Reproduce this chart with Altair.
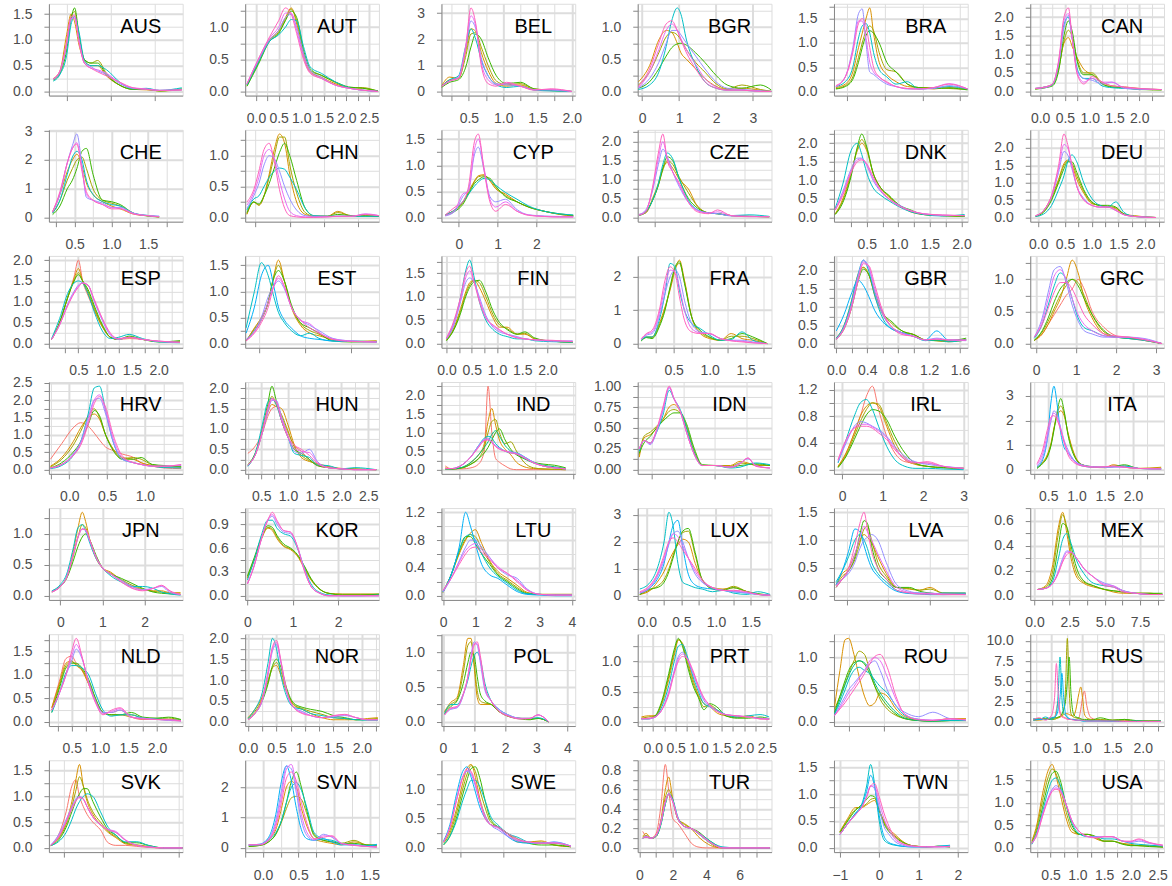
import altair as alt
import pandas as pd

YEARS = [2006, 2007, 2008, 2009, 2010, 2011, 2012, 2013, 2014, 2015]
PALETTE = ["#F8766D", "#D89000", "#A3A500", "#39B600", "#00BF7D",
           "#00BFC4", "#00B0F6", "#9590FF", "#E76BF3", "#FF62BC"]

COUNTRIES = ["AUS", "AUT", "BEL", "BGR", "BRA", "CAN",
             "CHE", "CHN", "CYP", "CZE", "DNK", "DEU",
             "ESP", "EST", "FIN", "FRA", "GBR", "GRC",
             "HRV", "HUN", "IND", "IDN", "IRL", "ITA",
             "JPN", "KOR", "LTU", "LUX", "LVA", "MEX",
             "NLD", "NOR", "POL", "PRT", "ROU", "RUS",
             "SVK", "SVN", "SWE", "TUR", "TWN", "USA"]

X_DOMAIN = {
    "AUS": [0.1, 3.12], "AUT": [-0.24, 2.72], "BEL": [0.1, 2.05], "BGR": [-0.12, 3.5],
    "BRA": [0.15, 3.7], "CAN": [-0.2, 2.5], "CHE": [0.15, 1.97], "CHN": [0.2, 4.1],
    "CYP": [-0.45, 3.0], "CZE": [0.12, 3.1], "DNK": [-0.02, 2.1], "DEU": [-0.15, 2.35],
    "ESP": [-0.05, 2.45], "EST": [0.2, 3.1], "FIN": [-0.1, 2.55], "FRA": [0.0, 1.86],
    "GBR": [-0.03, 1.7], "GRC": [-0.15, 3.2], "HRV": [-0.27, 1.5], "HUN": [0.2, 2.7],
    "IND": [0.02, 3.55], "IDN": [0.05, 4.3], "IRL": [-0.2, 3.1], "ITA": [0.18, 2.55],
    "JPN": [-0.27, 2.9], "KOR": [-0.05, 2.9], "LTU": [-0.05, 4.1], "LUX": [-0.13, 1.8],
    "LVA": [0.2, 3.4], "MEX": [-0.3, 9.2], "NLD": [0.1, 2.45], "NOR": [-0.05, 2.3],
    "POL": [-0.05, 4.25], "PRT": [-0.33, 2.6], "ROU": [0.08, 3.9], "RUS": [0.15, 2.35],
    "SVK": [0.1, 3.6], "SVN": [-0.25, 1.63], "SWE": [0.05, 3.2], "TUR": [-0.1, 7.9],
    "TWN": [-1.15, 2.25], "USA": [0.12, 2.62],
}

X_TICKS = {
    "AUS": [1, 2, 3], "AUT": [0, 0.5, 1, 1.5, 2, 2.5], "BEL": [0.5, 1, 1.5, 2],
    "BGR": [0, 1, 2, 3], "BRA": [1, 2, 3], "CAN": [0, 0.5, 1, 1.5, 2],
    "CHE": [0.5, 1, 1.5], "CHN": [1, 2, 3, 4], "CYP": [0, 1, 2], "CZE": [1, 2, 3],
    "DNK": [0.5, 1, 1.5, 2], "DEU": [0, 0.5, 1, 1.5, 2], "ESP": [0.5, 1, 1.5, 2],
    "EST": [1, 2, 3], "FIN": [0, 0.5, 1, 1.5, 2], "FRA": [0.5, 1, 1.5],
    "GBR": [0, 0.4, 0.8, 1.2, 1.6], "GRC": [0, 1, 2, 3], "HRV": [0, 0.5, 1],
    "HUN": [0.5, 1, 1.5, 2, 2.5], "IND": [1, 2, 3], "IDN": [1, 2, 3, 4],
    "IRL": [0, 1, 2, 3], "ITA": [0.5, 1, 1.5, 2], "JPN": [0, 1, 2], "KOR": [0, 1, 2],
    "LTU": [0, 1, 2, 3, 4], "LUX": [0, 0.5, 1, 1.5], "LVA": [1, 2, 3],
    "MEX": [0, 2.5, 5, 7.5], "NLD": [0.5, 1, 1.5, 2], "NOR": [0, 0.5, 1, 1.5, 2],
    "POL": [0, 1, 2, 3, 4], "PRT": [0, 0.5, 1, 1.5, 2, 2.5], "ROU": [1, 2, 3],
    "RUS": [0.5, 1, 1.5, 2], "SVK": [1, 2, 3], "SVN": [0, 0.5, 1, 1.5], "SWE": [1, 2, 3],
    "TUR": [0, 2, 4, 6], "TWN": [-1, 0, 1, 2], "USA": [0.5, 1, 1.5, 2, 2.5],
}

Y_TICKS = {
    "AUS": [0, 0.5, 1, 1.5], "AUT": [0, 0.5, 1], "BEL": [0, 1, 2, 3], "BGR": [0, 0.5, 1],
    "BRA": [0, 0.5, 1, 1.5], "CAN": [0, 0.5, 1, 1.5, 2], "CHE": [0, 1, 2, 3],
    "CHN": [0, 0.5, 1], "CYP": [0, 0.5, 1, 1.5], "CZE": [0, 0.5, 1, 1.5, 2],
    "DNK": [0, 0.5, 1, 1.5, 2], "DEU": [0, 0.5, 1, 1.5, 2], "ESP": [0, 0.5, 1, 1.5, 2],
    "EST": [0, 0.5, 1, 1.5], "FIN": [0, 0.5, 1, 1.5], "FRA": [0, 1, 2],
    "GBR": [0, 0.5, 1, 1.5, 2], "GRC": [0, 0.5, 1], "HRV": [0, 0.5, 1, 1.5, 2, 2.5],
    "HUN": [0, 0.5, 1, 1.5, 2], "IND": [0, 0.5, 1, 1.5, 2], "IDN": [0, 0.25, 0.5, 0.75, 1],
    "IRL": [0, 0.4, 0.8, 1.2], "ITA": [0, 1, 2, 3], "JPN": [0, 0.5, 1],
    "KOR": [0, 0.3, 0.6, 0.9], "LTU": [0, 0.4, 0.8, 1.2], "LUX": [0, 1, 2, 3],
    "LVA": [0, 0.5, 1, 1.5], "MEX": [0, 0.2, 0.4, 0.6], "NLD": [0, 0.5, 1, 1.5],
    "NOR": [0, 0.5, 1, 1.5, 2], "POL": [0, 0.5, 1], "PRT": [0, 0.5, 1], "ROU": [0, 0.5, 1],
    "RUS": [0, 2.5, 5, 7.5, 10], "SVK": [0, 0.5, 1, 1.5], "SVN": [0, 1, 2],
    "SWE": [0, 0.5, 1, 1.5], "TUR": [0, 0.2, 0.4, 0.6, 0.8], "TWN": [0, 0.5, 1, 1.5],
    "USA": [0, 0.5, 1, 1.5],
}

# ---- density curves: x grid + one y list per year ----
AUS_X = [0.2, 0.35, 0.5, 0.6, 0.68, 0.78, 0.9, 1.05, 1.2, 1.4, 1.7, 2.0, 2.3, 2.6, 3.1]
AUS_Y = {
    2007: [0.25, 0.4, 1.1, 1.5, 1.35, 0.9, 0.6, 0.5, 0.5, 0.3, 0.12, 0.04, 0.03, 0.01, 0.03],
    2008: [0.24, 0.38, 0.95, 1.45, 1.55, 1.05, 0.62, 0.55, 0.6, 0.35, 0.12, 0.04, 0.04, 0.01, 0.04],
    2009: [0.22, 0.35, 0.8, 1.4, 1.62, 1.1, 0.62, 0.55, 0.55, 0.32, 0.12, 0.04, 0.05, 0.01, 0.05],
    2011: [0.2, 0.33, 0.7, 1.3, 1.45, 1.15, 0.6, 0.5, 0.5, 0.42, 0.18, 0.05, 0.06, 0.02, 0.07],
    2013: [0.23, 0.38, 0.9, 1.4, 1.45, 1.0, 0.55, 0.48, 0.4, 0.33, 0.15, 0.06, 0.04, 0.02, 0.03],
    2014: [0.24, 0.4, 0.92, 1.42, 1.42, 0.98, 0.55, 0.45, 0.42, 0.35, 0.17, 0.07, 0.05, 0.02, 0.03],
    2015: [0.25, 0.4, 0.95, 1.45, 1.48, 0.95, 0.55, 0.45, 0.38, 0.3, 0.18, 0.07, 0.04, 0.02, 0.03],
}
AUT_X = [-0.2, 0.05, 0.3, 0.5, 0.65, 0.78, 0.9, 1.05, 1.2, 1.45, 1.75, 2.05, 2.35, 2.7]
AUT_Y = {
    2007: [0.1, 0.45, 0.8, 0.95, 1.15, 1.3, 1.05, 0.55, 0.3, 0.22, 0.12, 0.06, 0.05, 0.0],
    2008: [0.09, 0.44, 0.8, 0.92, 1.12, 1.28, 1.1, 0.6, 0.32, 0.25, 0.14, 0.06, 0.06, 0.0],
    2009: [0.08, 0.42, 0.78, 0.9, 1.1, 1.25, 1.15, 0.65, 0.35, 0.25, 0.15, 0.07, 0.05, 0.01],
    2011: [0.1, 0.45, 0.78, 0.88, 1.0, 1.12, 1.1, 0.7, 0.38, 0.28, 0.15, 0.06, 0.02, 0.0],
    2013: [0.12, 0.48, 0.8, 0.95, 1.15, 1.2, 1.0, 0.6, 0.33, 0.22, 0.1, 0.05, 0.02, 0.0],
    2014: [0.12, 0.5, 0.83, 1.0, 1.22, 1.22, 0.95, 0.55, 0.3, 0.2, 0.1, 0.05, 0.02, 0.0],
    2015: [0.12, 0.5, 0.85, 1.1, 1.3, 1.2, 0.9, 0.5, 0.28, 0.2, 0.1, 0.05, 0.02, 0.0],
}
BEL_X = [0.1, 0.22, 0.35, 0.45, 0.53, 0.6, 0.68, 0.78, 0.9, 1.05, 1.25, 1.45, 1.7, 2.0]
BEL_Y = {
    2007: [0.2, 0.55, 0.5, 1.5, 2.4, 2.3, 1.5, 0.8, 0.3, 0.2, 0.25, 0.08, 0.06, 0.0],
    2008: [0.18, 0.45, 0.5, 1.3, 2.2, 2.25, 1.7, 1.0, 0.4, 0.25, 0.3, 0.1, 0.05, 0.0],
    2009: [0.15, 0.35, 0.45, 0.9, 1.7, 2.2, 2.0, 1.3, 0.6, 0.3, 0.35, 0.1, 0.03, 0.0],
    2011: [0.2, 0.45, 0.6, 1.7, 2.4, 2.0, 1.2, 0.6, 0.25, 0.15, 0.2, 0.05, 0.02, 0.0],
    2013: [0.2, 0.4, 0.55, 1.6, 2.7, 2.4, 1.3, 0.6, 0.3, 0.25, 0.2, 0.07, 0.05, 0.0],
    2014: [0.2, 0.4, 0.52, 1.7, 2.9, 2.5, 1.1, 0.45, 0.25, 0.3, 0.2, 0.06, 0.08, 0.0],
    2015: [0.18, 0.4, 0.5, 1.6, 3.2, 2.6, 1.0, 0.3, 0.2, 0.35, 0.2, 0.05, 0.1, 0.0],
}
BGR_X = [-0.1, 0.2, 0.45, 0.65, 0.8, 0.95, 1.05, 1.2, 1.45, 1.7, 2.0, 2.3, 2.7, 3.2, 3.5]
BGR_Y = {
    2007: [0.15, 0.4, 0.8, 0.95, 0.92, 0.75, 0.6, 0.5, 0.35, 0.2, 0.08, 0.03, 0.05, 0.02, 0.0],
    2008: [0.1, 0.3, 0.6, 0.85, 0.92, 0.88, 0.8, 0.65, 0.45, 0.3, 0.12, 0.04, 0.1, 0.03, 0.0],
    2009: [0.05, 0.15, 0.35, 0.55, 0.68, 0.74, 0.75, 0.72, 0.6, 0.45, 0.25, 0.1, 0.05, 0.1, 0.02],
    2011: [0.03, 0.1, 0.3, 0.7, 1.1, 1.3, 1.2, 0.8, 0.4, 0.15, 0.05, 0.02, 0.02, 0.0, 0.0],
    2013: [0.05, 0.2, 0.45, 0.75, 0.95, 0.95, 0.88, 0.75, 0.55, 0.35, 0.15, 0.05, 0.03, 0.01, 0.0],
    2014: [0.06, 0.3, 0.65, 0.95, 1.05, 0.95, 0.82, 0.65, 0.42, 0.2, 0.07, 0.02, 0.02, 0.0, 0.0],
    2015: [0.08, 0.35, 0.75, 1.05, 1.1, 0.95, 0.8, 0.6, 0.35, 0.15, 0.05, 0.02, 0.02, 0.0, 0.0],
}
BRA_X = [0.2, 0.45, 0.65, 0.8, 0.9, 1.0, 1.1, 1.2, 1.35, 1.55, 1.8, 2.1, 2.4, 2.8, 3.2, 3.7]
BRA_Y = {
    2007: [0.08, 0.15, 0.4, 0.9, 1.2, 1.5, 1.72, 1.2, 0.6, 0.35, 0.2, 0.1, 0.08, 0.05, 0.08, 0.05],
    2008: [0.06, 0.12, 0.3, 0.7, 1.0, 1.25, 1.35, 1.25, 0.8, 0.45, 0.4, 0.15, 0.08, 0.08, 0.06, 0.04],
    2009: [0.05, 0.1, 0.25, 0.6, 0.9, 1.15, 1.25, 1.2, 1.0, 0.6, 0.4, 0.15, 0.08, 0.06, 0.07, 0.03],
    2011: [0.1, 0.2, 0.5, 1.1, 1.35, 1.4, 1.2, 0.8, 0.45, 0.3, 0.15, 0.2, 0.05, 0.07, 0.1, 0.05],
    2013: [0.1, 0.3, 0.9, 1.6, 1.7, 1.0, 0.4, 0.35, 0.25, 0.15, 0.1, 0.05, 0.05, 0.06, 0.12, 0.05],
    2014: [0.1, 0.3, 0.85, 1.45, 1.45, 1.1, 0.6, 0.4, 0.3, 0.18, 0.1, 0.06, 0.05, 0.08, 0.16, 0.05],
    2015: [0.12, 0.3, 0.8, 1.4, 1.5, 1.35, 0.9, 0.5, 0.3, 0.2, 0.1, 0.06, 0.05, 0.08, 0.15, 0.05],
}
CAN_X = [-0.1, 0.1, 0.25, 0.38, 0.48, 0.57, 0.65, 0.75, 0.88, 1.05, 1.25, 1.45, 1.7, 2.0, 2.45]
CAN_Y = {
    2007: [0.08, 0.12, 0.2, 0.7, 1.3, 1.45, 1.2, 0.9, 0.6, 0.45, 0.25, 0.15, 0.12, 0.08, 0.05],
    2008: [0.07, 0.1, 0.18, 0.65, 1.35, 1.65, 1.45, 0.85, 0.5, 0.5, 0.22, 0.12, 0.1, 0.06, 0.04],
    2009: [0.06, 0.1, 0.15, 0.6, 1.5, 1.9, 1.6, 0.8, 0.45, 0.45, 0.2, 0.12, 0.1, 0.05, 0.04],
    2011: [0.08, 0.12, 0.18, 0.8, 1.8, 2.0, 1.4, 0.6, 0.35, 0.35, 0.15, 0.1, 0.08, 0.06, 0.05],
    2013: [0.08, 0.1, 0.2, 0.8, 1.7, 2.05, 1.4, 0.55, 0.35, 0.3, 0.2, 0.25, 0.08, 0.06, 0.05],
    2014: [0.08, 0.12, 0.2, 0.85, 1.9, 2.1, 1.4, 0.5, 0.25, 0.35, 0.25, 0.25, 0.1, 0.07, 0.05],
    2015: [0.08, 0.12, 0.2, 0.9, 2.0, 2.25, 1.4, 0.45, 0.2, 0.4, 0.25, 0.15, 0.12, 0.08, 0.05],
}
CHE_X = [0.2, 0.3, 0.4, 0.47, 0.53, 0.6, 0.66, 0.75, 0.88, 1.0, 1.12, 1.3, 1.5, 1.65]
CHE_Y = {
    2007: [0.2, 0.8, 1.6, 2.0, 2.2, 1.8, 1.2, 0.8, 0.55, 0.4, 0.3, 0.12, 0.06, 0.02],
    2008: [0.15, 0.6, 1.3, 1.7, 2.0, 2.1, 1.7, 1.0, 0.6, 0.5, 0.4, 0.15, 0.06, 0.02],
    2009: [0.1, 0.4, 1.0, 1.3, 1.7, 2.3, 2.4, 1.5, 0.6, 0.55, 0.45, 0.15, 0.05, 0.02],
    2011: [0.15, 0.6, 1.5, 2.1, 2.3, 2.0, 1.3, 0.8, 0.55, 0.45, 0.4, 0.15, 0.07, 0.03],
    2013: [0.18, 0.8, 1.9, 2.5, 2.9, 1.8, 0.7, 0.6, 0.5, 0.35, 0.35, 0.15, 0.07, 0.05],
    2014: [0.2, 0.85, 1.9, 2.4, 2.6, 1.7, 0.8, 0.6, 0.45, 0.35, 0.32, 0.14, 0.06, 0.03],
    2015: [0.2, 0.9, 1.9, 2.4, 2.55, 1.6, 0.9, 0.6, 0.45, 0.3, 0.3, 0.12, 0.06, 0.02],
}
CHN_X = [0.25, 0.45, 0.6, 0.75, 0.9, 1.05, 1.2, 1.35, 1.5, 1.7, 1.95, 2.2, 2.6, 2.9, 3.3, 3.7, 4.1]
CHN_Y = {
    2007: [0.05, 0.25, 0.2, 0.35, 0.7, 1.1, 1.35, 1.2, 0.7, 0.25, 0.05, 0.02, 0.02, 0.1, 0.02, 0.03, 0.02],
    2008: [0.06, 0.25, 0.2, 0.35, 0.65, 1.0, 1.3, 1.3, 0.85, 0.4, 0.08, 0.02, 0.02, 0.08, 0.03, 0.03, 0.02],
    2009: [0.08, 0.25, 0.22, 0.35, 0.55, 0.8, 1.05, 1.2, 1.0, 0.6, 0.15, 0.03, 0.02, 0.05, 0.03, 0.02, 0.02],
    2011: [0.12, 0.3, 0.35, 0.5, 0.65, 0.75, 0.8, 0.78, 0.65, 0.45, 0.15, 0.03, 0.02, 0.02, 0.02, 0.02, 0.02],
    2013: [0.15, 0.35, 0.55, 0.85, 1.0, 0.95, 0.75, 0.5, 0.3, 0.12, 0.03, 0.02, 0.02, 0.02, 0.02, 0.05, 0.03],
    2014: [0.2, 0.4, 0.65, 1.0, 1.1, 0.95, 0.6, 0.3, 0.1, 0.03, 0.01, 0.01, 0.01, 0.02, 0.02, 0.06, 0.03],
    2015: [0.25, 0.45, 0.75, 1.1, 1.2, 0.9, 0.45, 0.15, 0.03, 0.01, 0.0, 0.0, 0.01, 0.02, 0.02, 0.05, 0.03],
}
CYP_X = [-0.35, -0.1, 0.1, 0.25, 0.4, 0.5, 0.65, 0.8, 0.95, 1.2, 1.5, 1.8, 2.2, 2.6, 2.95]
CYP_Y = {
    2007: [0.05, 0.15, 0.3, 0.5, 0.7, 0.8, 0.82, 0.7, 0.55, 0.45, 0.3, 0.2, 0.12, 0.06, 0.03],
    2008: [0.05, 0.15, 0.28, 0.48, 0.68, 0.78, 0.8, 0.72, 0.58, 0.42, 0.3, 0.2, 0.12, 0.06, 0.03],
    2009: [0.04, 0.12, 0.25, 0.45, 0.65, 0.72, 0.78, 0.75, 0.6, 0.4, 0.3, 0.2, 0.12, 0.07, 0.04],
    2011: [0.05, 0.15, 0.3, 0.45, 0.6, 0.68, 0.75, 0.72, 0.62, 0.48, 0.35, 0.22, 0.12, 0.07, 0.05],
    2013: [0.03, 0.12, 0.4, 0.55, 1.2, 1.35, 0.9, 0.4, 0.3, 0.35, 0.15, 0.05, 0.03, 0.02, 0.02],
    2014: [0.04, 0.15, 0.45, 0.5, 1.3, 1.5, 0.95, 0.35, 0.2, 0.3, 0.12, 0.05, 0.02, 0.01, 0.01],
    2015: [0.05, 0.2, 0.3, 0.6, 1.45, 1.6, 0.9, 0.3, 0.12, 0.25, 0.12, 0.04, 0.02, 0.01, 0.01],
}
CZE_X = [0.15, 0.3, 0.45, 0.58, 0.68, 0.78, 0.9, 1.05, 1.25, 1.45, 1.7, 1.9, 2.2, 2.6, 3.05]
CZE_Y = {
    2007: [0.08, 0.12, 0.5, 0.9, 1.3, 1.45, 1.3, 1.0, 0.75, 0.3, 0.12, 0.1, 0.05, 0.03, 0.02],
    2008: [0.07, 0.13, 0.45, 0.85, 1.25, 1.5, 1.4, 1.05, 0.65, 0.3, 0.12, 0.1, 0.05, 0.03, 0.02],
    2009: [0.05, 0.15, 0.45, 0.85, 1.3, 1.6, 1.5, 1.0, 0.5, 0.25, 0.12, 0.1, 0.05, 0.03, 0.02],
    2011: [0.06, 0.15, 0.45, 0.9, 1.4, 1.7, 1.55, 1.0, 0.45, 0.2, 0.12, 0.1, 0.05, 0.07, 0.03],
    2013: [0.08, 0.2, 0.7, 1.4, 1.8, 1.6, 1.2, 0.8, 0.4, 0.2, 0.12, 0.1, 0.04, 0.03, 0.02],
    2014: [0.07, 0.18, 0.75, 1.55, 2.0, 1.55, 1.2, 0.85, 0.4, 0.18, 0.12, 0.15, 0.05, 0.03, 0.02],
    2015: [0.06, 0.15, 0.8, 1.7, 2.2, 1.5, 1.2, 0.9, 0.4, 0.15, 0.1, 0.2, 0.05, 0.02, 0.02],
}
DNK_X = [0.0, 0.12, 0.25, 0.35, 0.42, 0.5, 0.6, 0.72, 0.85, 1.0, 1.2, 1.4, 1.7, 2.05]
DNK_Y = {
    2007: [0.1, 0.5, 1.2, 1.8, 2.0, 1.8, 1.2, 0.8, 0.55, 0.35, 0.15, 0.08, 0.05, 0.04],
    2008: [0.09, 0.45, 1.15, 1.85, 2.1, 1.85, 1.2, 0.8, 0.58, 0.35, 0.18, 0.08, 0.05, 0.03],
    2009: [0.08, 0.4, 1.1, 1.9, 2.25, 1.9, 1.2, 0.8, 0.6, 0.35, 0.2, 0.08, 0.05, 0.03],
    2011: [0.25, 0.9, 1.8, 2.0, 1.7, 1.2, 0.8, 0.6, 0.45, 0.3, 0.15, 0.08, 0.04, 0.08],
    2013: [0.2, 0.7, 1.3, 1.6, 1.6, 1.4, 1.0, 0.7, 0.5, 0.35, 0.18, 0.1, 0.06, 0.05],
    2014: [0.22, 0.65, 1.25, 1.55, 1.58, 1.42, 1.05, 0.72, 0.5, 0.33, 0.18, 0.1, 0.06, 0.05],
    2015: [0.2, 0.6, 1.2, 1.5, 1.55, 1.45, 1.1, 0.75, 0.5, 0.32, 0.18, 0.1, 0.07, 0.05],
}
DEU_X = [-0.05, 0.1, 0.25, 0.38, 0.48, 0.55, 0.63, 0.72, 0.85, 1.0, 1.15, 1.3, 1.45, 1.6, 1.8, 2.2]
DEU_Y = {
    2007: [0.05, 0.2, 0.6, 1.1, 1.55, 1.65, 1.5, 1.1, 0.7, 0.4, 0.35, 0.3, 0.25, 0.1, 0.05, 0.0],
    2008: [0.04, 0.18, 0.55, 1.05, 1.5, 1.62, 1.55, 1.2, 0.75, 0.42, 0.35, 0.32, 0.28, 0.1, 0.04, 0.0],
    2009: [0.03, 0.15, 0.5, 1.0, 1.4, 1.6, 1.6, 1.3, 0.8, 0.45, 0.35, 0.35, 0.3, 0.1, 0.03, 0.0],
    2011: [0.03, 0.1, 0.35, 0.8, 1.2, 1.6, 1.8, 1.6, 1.0, 0.55, 0.35, 0.3, 0.45, 0.15, 0.03, 0.0],
    2013: [0.05, 0.2, 0.6, 1.3, 1.9, 1.8, 1.4, 0.9, 0.55, 0.35, 0.3, 0.3, 0.2, 0.08, 0.03, 0.0],
    2014: [0.05, 0.2, 0.62, 1.4, 2.1, 2.0, 1.5, 0.9, 0.52, 0.35, 0.3, 0.3, 0.22, 0.08, 0.03, 0.0],
    2015: [0.05, 0.2, 0.65, 1.5, 2.4, 2.1, 1.5, 0.9, 0.5, 0.35, 0.3, 0.3, 0.2, 0.08, 0.03, 0.0],
}
ESP_X = [0.0, 0.15, 0.3, 0.42, 0.5, 0.58, 0.68, 0.8, 0.95, 1.1, 1.25, 1.45, 1.7, 2.0, 2.4]
ESP_Y = {
    2006: [0.1, 0.5, 1.1, 1.6, 2.0, 1.5, 1.15, 0.8, 0.4, 0.15, 0.1, 0.12, 0.1, 0.05, 0.03],
    2007: [0.1, 0.5, 1.1, 1.55, 1.8, 1.5, 1.2, 0.8, 0.4, 0.15, 0.1, 0.15, 0.1, 0.05, 0.03],
    2008: [0.1, 0.5, 1.1, 1.5, 1.7, 1.5, 1.25, 0.85, 0.42, 0.15, 0.1, 0.16, 0.1, 0.05, 0.05],
    2009: [0.1, 0.5, 1.1, 1.5, 1.65, 1.5, 1.3, 0.9, 0.45, 0.15, 0.1, 0.18, 0.1, 0.04, 0.07],
    2011: [0.12, 0.6, 1.2, 1.45, 1.5, 1.45, 1.2, 0.75, 0.3, 0.12, 0.15, 0.22, 0.12, 0.04, 0.02],
    2013: [0.1, 0.45, 0.95, 1.25, 1.4, 1.45, 1.4, 1.0, 0.55, 0.2, 0.1, 0.15, 0.1, 0.05, 0.03],
    2014: [0.1, 0.45, 0.92, 1.22, 1.38, 1.45, 1.4, 1.02, 0.58, 0.22, 0.11, 0.15, 0.1, 0.06, 0.03],
    2015: [0.1, 0.45, 0.9, 1.2, 1.35, 1.45, 1.4, 1.05, 0.6, 0.25, 0.12, 0.15, 0.1, 0.06, 0.03],
}
EST_X = [0.22, 0.4, 0.55, 0.7, 0.82, 0.92, 1.05, 1.2, 1.4, 1.6, 1.8, 2.1, 2.5, 3.05]
EST_Y = {
    2007: [0.05, 0.3, 0.5, 0.8, 1.3, 1.6, 1.2, 0.7, 0.35, 0.2, 0.15, 0.08, 0.04, 0.05],
    2008: [0.05, 0.28, 0.48, 0.8, 1.28, 1.5, 1.2, 0.72, 0.38, 0.25, 0.18, 0.06, 0.04, 0.05],
    2009: [0.05, 0.25, 0.45, 0.8, 1.25, 1.4, 1.2, 0.75, 0.4, 0.3, 0.2, 0.05, 0.03, 0.04],
    2011: [0.3, 1.0, 1.55, 1.3, 0.9, 0.6, 0.4, 0.25, 0.15, 0.2, 0.1, 0.05, 0.05, 0.03],
    2012: [0.2, 0.7, 1.3, 1.5, 1.1, 0.7, 0.45, 0.3, 0.15, 0.1, 0.08, 0.05, 0.04, 0.03],
    2013: [0.08, 0.25, 0.5, 0.9, 1.1, 1.2, 1.05, 0.7, 0.45, 0.35, 0.25, 0.1, 0.05, 0.03],
    2014: [0.06, 0.22, 0.45, 0.8, 1.1, 1.25, 1.08, 0.7, 0.45, 0.38, 0.22, 0.09, 0.05, 0.03],
    2015: [0.05, 0.2, 0.4, 0.7, 1.1, 1.3, 1.1, 0.7, 0.45, 0.3, 0.2, 0.08, 0.04, 0.03],
}
FIN_X = [0.0, 0.15, 0.28, 0.38, 0.46, 0.55, 0.65, 0.78, 0.92, 1.05, 1.2, 1.4, 1.55, 1.75, 2.1, 2.5]
FIN_Y = {
    2007: [0.08, 0.35, 0.75, 1.1, 1.3, 1.35, 1.2, 0.9, 0.55, 0.35, 0.35, 0.2, 0.2, 0.1, 0.05, 0.03],
    2008: [0.07, 0.32, 0.7, 1.05, 1.25, 1.35, 1.3, 1.0, 0.62, 0.4, 0.32, 0.2, 0.22, 0.1, 0.05, 0.03],
    2009: [0.06, 0.3, 0.65, 1.0, 1.2, 1.32, 1.35, 1.1, 0.7, 0.45, 0.3, 0.2, 0.25, 0.12, 0.05, 0.03],
    2011: [0.1, 0.45, 1.0, 1.55, 1.78, 1.4, 0.9, 0.5, 0.3, 0.2, 0.15, 0.1, 0.1, 0.06, 0.04, 0.03],
    2013: [0.1, 0.4, 0.9, 1.3, 1.4, 1.3, 1.0, 0.6, 0.35, 0.25, 0.2, 0.15, 0.1, 0.08, 0.05, 0.06],
    2014: [0.11, 0.45, 0.95, 1.4, 1.55, 1.3, 0.95, 0.55, 0.38, 0.28, 0.2, 0.13, 0.1, 0.08, 0.06, 0.05],
    2015: [0.12, 0.5, 1.0, 1.5, 1.65, 1.3, 0.9, 0.55, 0.4, 0.3, 0.2, 0.12, 0.1, 0.08, 0.07, 0.04],
}
FRA_X = [0.05, 0.12, 0.2, 0.3, 0.38, 0.45, 0.52, 0.58, 0.65, 0.75, 0.87, 1.0, 1.15, 1.3, 1.45, 1.6, 1.8]
FRA_Y = {
    2007: [0.1, 0.2, 0.2, 0.6, 1.1, 1.6, 2.2, 2.5, 1.9, 0.8, 0.3, 0.15, 0.1, 0.3, 0.15, 0.1, 0.0],
    2008: [0.09, 0.19, 0.18, 0.55, 1.05, 1.65, 2.25, 2.4, 1.85, 0.8, 0.35, 0.18, 0.1, 0.22, 0.22, 0.15, 0.0],
    2009: [0.08, 0.18, 0.15, 0.5, 1.0, 1.7, 2.3, 2.45, 1.8, 0.8, 0.4, 0.2, 0.1, 0.15, 0.3, 0.2, 0.0],
    2011: [0.1, 0.2, 0.2, 0.7, 1.5, 2.4, 2.3, 1.6, 1.0, 0.6, 0.45, 0.25, 0.1, 0.12, 0.35, 0.1, 0.0],
    2013: [0.12, 0.25, 0.3, 0.8, 1.5, 2.0, 2.2, 2.0, 1.3, 0.6, 0.35, 0.3, 0.15, 0.1, 0.1, 0.05, 0.0],
    2014: [0.14, 0.28, 0.35, 0.9, 1.7, 2.2, 2.15, 1.7, 1.0, 0.45, 0.32, 0.3, 0.15, 0.09, 0.07, 0.03, 0.0],
    2015: [0.15, 0.3, 0.4, 1.0, 1.9, 2.3, 2.1, 1.4, 0.7, 0.35, 0.3, 0.3, 0.15, 0.08, 0.05, 0.02, 0.0],
}
GBR_X = [0.0, 0.1, 0.2, 0.28, 0.35, 0.42, 0.5, 0.6, 0.72, 0.85, 1.0, 1.15, 1.3, 1.45, 1.68]
GBR_Y = {
    2007: [0.15, 0.5, 1.2, 1.9, 2.1, 1.9, 1.3, 0.8, 0.45, 0.3, 0.25, 0.1, 0.08, 0.05, 0.1],
    2008: [0.13, 0.45, 1.1, 1.8, 2.1, 1.9, 1.35, 0.85, 0.55, 0.35, 0.25, 0.1, 0.08, 0.06, 0.12],
    2009: [0.12, 0.4, 1.0, 1.7, 2.05, 1.9, 1.4, 0.85, 0.6, 0.35, 0.25, 0.1, 0.08, 0.08, 0.15],
    2011: [0.15, 0.5, 1.2, 1.9, 2.3, 2.0, 1.3, 0.7, 0.4, 0.3, 0.2, 0.08, 0.1, 0.05, 0.1],
    2012: [0.35, 0.8, 1.4, 1.75, 1.6, 1.3, 0.9, 0.6, 0.4, 0.3, 0.2, 0.1, 0.35, 0.1, 0.1],
    2013: [0.12, 0.45, 1.1, 1.85, 2.3, 2.1, 1.4, 0.8, 0.45, 0.3, 0.2, 0.1, 0.15, 0.1, 0.08],
    2014: [0.12, 0.42, 1.05, 1.78, 2.25, 2.1, 1.5, 0.85, 0.45, 0.28, 0.2, 0.1, 0.13, 0.1, 0.09],
    2015: [0.12, 0.4, 1.0, 1.7, 2.2, 2.15, 1.6, 0.9, 0.45, 0.25, 0.2, 0.1, 0.12, 0.1, 0.1],
}
GRC_X = [-0.05, 0.15, 0.3, 0.45, 0.6, 0.75, 0.9, 1.05, 1.2, 1.4, 1.7, 2.0, 2.3, 2.7, 3.15]
GRC_Y = {
    2006: [0.05, 0.15, 0.3, 0.45, 0.6, 0.75, 0.85, 1.0, 0.85, 0.5, 0.25, 0.12, 0.08, 0.05, 0.0],
    2007: [0.05, 0.15, 0.3, 0.5, 0.7, 1.0, 1.3, 1.1, 0.7, 0.4, 0.15, 0.1, 0.1, 0.05, 0.0],
    2008: [0.05, 0.18, 0.35, 0.55, 0.75, 0.9, 1.0, 0.95, 0.75, 0.45, 0.18, 0.1, 0.09, 0.06, 0.0],
    2009: [0.05, 0.2, 0.4, 0.65, 0.85, 0.95, 1.0, 0.9, 0.7, 0.45, 0.2, 0.1, 0.08, 0.06, 0.0],
    2011: [0.08, 0.3, 0.6, 0.9, 1.1, 1.0, 0.7, 0.4, 0.25, 0.2, 0.12, 0.1, 0.08, 0.05, 0.0],
    2013: [0.1, 0.4, 0.8, 1.15, 1.2, 0.95, 0.6, 0.35, 0.2, 0.15, 0.1, 0.1, 0.1, 0.08, 0.0],
    2014: [0.1, 0.35, 0.7, 1.05, 1.15, 1.0, 0.7, 0.45, 0.3, 0.2, 0.12, 0.1, 0.1, 0.07, 0.0],
    2015: [0.1, 0.3, 0.55, 0.8, 0.95, 0.95, 0.85, 0.65, 0.45, 0.3, 0.15, 0.12, 0.1, 0.06, 0.0],
}
HRV_X = [-0.25, -0.1, 0.05, 0.15, 0.25, 0.33, 0.4, 0.48, 0.58, 0.7, 0.85, 0.95, 1.1, 1.25, 1.48]
HRV_Y = {
    2006: [0.3, 0.75, 1.2, 1.35, 1.25, 1.05, 0.85, 0.65, 0.55, 0.45, 0.35, 0.2, 0.1, 0.05, 0.03],
    2007: [0.1, 0.35, 0.8, 1.2, 1.5, 1.6, 1.45, 1.0, 0.6, 0.35, 0.3, 0.2, 0.12, 0.08, 0.08],
    2008: [0.08, 0.3, 0.7, 1.1, 1.55, 1.75, 1.5, 1.0, 0.58, 0.32, 0.35, 0.3, 0.14, 0.1, 0.08],
    2009: [0.05, 0.2, 0.5, 0.8, 1.3, 1.7, 1.55, 1.0, 0.55, 0.3, 0.3, 0.35, 0.15, 0.12, 0.08],
    2011: [0.03, 0.12, 0.4, 0.8, 1.6, 2.35, 2.4, 1.7, 0.8, 0.3, 0.2, 0.15, 0.1, 0.06, 0.05],
    2013: [0.05, 0.15, 0.45, 0.8, 1.5, 2.0, 2.05, 1.6, 0.8, 0.3, 0.2, 0.15, 0.1, 0.1, 0.12],
    2014: [0.05, 0.15, 0.42, 0.75, 1.4, 2.0, 2.15, 1.7, 0.9, 0.35, 0.2, 0.15, 0.1, 0.1, 0.14],
    2015: [0.05, 0.15, 0.4, 0.7, 1.3, 1.9, 2.1, 1.8, 1.0, 0.4, 0.2, 0.15, 0.1, 0.1, 0.15],
}
HUN_X = [0.25, 0.4, 0.52, 0.62, 0.7, 0.78, 0.88, 1.0, 1.12, 1.25, 1.4, 1.55, 1.75, 2.0, 2.25, 2.65]
HUN_Y = {
    2006: [0.4, 0.6, 0.9, 1.3, 1.5, 1.55, 1.3, 0.9, 0.6, 0.45, 0.25, 0.1, 0.05, 0.02, 0.0, 0.0],
    2007: [0.1, 0.4, 0.9, 1.4, 1.6, 1.55, 1.5, 1.1, 0.6, 0.3, 0.2, 0.15, 0.08, 0.03, 0.02, 0.0],
    2008: [0.11, 0.42, 0.95, 1.5, 1.8, 1.6, 1.35, 0.95, 0.55, 0.35, 0.22, 0.12, 0.06, 0.02, 0.01, 0.0],
    2009: [0.12, 0.45, 1.0, 1.6, 2.05, 1.7, 1.2, 0.8, 0.5, 0.4, 0.25, 0.1, 0.05, 0.02, 0.01, 0.0],
    2011: [0.08, 0.45, 1.1, 1.65, 1.75, 1.6, 1.2, 0.8, 0.4, 0.35, 0.3, 0.12, 0.1, 0.02, 0.05, 0.0],
    2013: [0.1, 0.4, 0.9, 1.4, 1.7, 1.7, 1.3, 0.8, 0.45, 0.4, 0.5, 0.2, 0.05, 0.02, 0.0, 0.0],
    2014: [0.11, 0.4, 0.92, 1.45, 1.72, 1.68, 1.25, 0.8, 0.52, 0.45, 0.42, 0.18, 0.05, 0.02, 0.0, 0.0],
    2015: [0.12, 0.4, 0.95, 1.5, 1.75, 1.65, 1.2, 0.8, 0.6, 0.5, 0.35, 0.15, 0.05, 0.02, 0.0, 0.0],
}
IND_X = [0.12, 0.3, 0.55, 0.8, 1.0, 1.15, 1.25, 1.35, 1.45, 1.55, 1.7, 1.85, 2.0, 2.2, 2.45, 2.7, 3.0, 3.3]
IND_Y = {
    2006: [0.1, 0.02, 0.02, 0.05, 0.15, 0.5, 2.25, 1.0, 0.3, 0.2, 0.1, 0.02, 0.0, 0.0, 0.0, 0.0, 0.0, 0.0],
    2007: [0.05, 0.02, 0.05, 0.2, 0.4, 0.7, 1.3, 1.65, 1.2, 0.8, 0.55, 0.4, 0.2, 0.08, 0.03, 0.02, 0.01, 0.0],
    2008: [0.02, 0.02, 0.04, 0.15, 0.3, 0.6, 1.0, 1.3, 1.35, 1.0, 0.7, 0.75, 0.5, 0.2, 0.05, 0.02, 0.01, 0.0],
    2009: [0.02, 0.02, 0.05, 0.15, 0.3, 0.45, 0.6, 0.8, 1.0, 1.1, 0.8, 0.55, 0.4, 0.3, 0.2, 0.15, 0.12, 0.05],
    2010: [0.02, 0.02, 0.06, 0.2, 0.4, 0.6, 0.75, 0.95, 1.05, 0.9, 0.65, 0.5, 0.42, 0.3, 0.18, 0.12, 0.08, 0.03],
    2011: [0.03, 0.03, 0.12, 0.35, 0.65, 0.85, 0.9, 0.85, 0.7, 0.6, 0.5, 0.45, 0.45, 0.35, 0.2, 0.1, 0.05, 0.02],
    2013: [0.03, 0.03, 0.12, 0.35, 0.65, 0.82, 0.85, 0.75, 0.65, 0.58, 0.5, 0.48, 0.45, 0.35, 0.2, 0.1, 0.05, 0.02],
    2014: [0.03, 0.03, 0.12, 0.35, 0.62, 0.8, 0.82, 0.74, 0.63, 0.56, 0.5, 0.46, 0.43, 0.33, 0.19, 0.1, 0.05, 0.02],
    2015: [0.03, 0.03, 0.12, 0.35, 0.6, 0.78, 0.8, 0.72, 0.62, 0.55, 0.5, 0.45, 0.42, 0.32, 0.18, 0.1, 0.05, 0.02],
}
IDN_X = [0.1, 0.25, 0.45, 0.65, 0.85, 1.05, 1.2, 1.4, 1.6, 1.85, 2.1, 2.5, 3.0, 3.3, 3.55, 3.8, 4.25]
IDN_Y = {
    2007: [0.15, 0.38, 0.42, 0.5, 0.6, 0.75, 0.78, 0.7, 0.5, 0.2, 0.05, 0.05, 0.05, 0.1, 0.08, 0.05, 0.05],
    2008: [0.18, 0.4, 0.45, 0.52, 0.6, 0.7, 0.72, 0.68, 0.52, 0.22, 0.05, 0.05, 0.04, 0.08, 0.07, 0.06, 0.05],
    2009: [0.2, 0.32, 0.4, 0.5, 0.58, 0.65, 0.68, 0.68, 0.55, 0.25, 0.06, 0.05, 0.03, 0.05, 0.06, 0.07, 0.05],
    2011: [0.22, 0.35, 0.32, 0.45, 0.65, 0.95, 0.85, 0.72, 0.5, 0.2, 0.05, 0.05, 0.02, 0.03, 0.06, 0.08, 0.06],
    2013: [0.25, 0.35, 0.3, 0.45, 0.7, 0.98, 0.85, 0.7, 0.45, 0.18, 0.05, 0.05, 0.03, 0.08, 0.13, 0.05, 0.02],
    2014: [0.25, 0.35, 0.31, 0.47, 0.72, 0.99, 0.86, 0.7, 0.45, 0.18, 0.05, 0.05, 0.03, 0.07, 0.14, 0.05, 0.02],
    2015: [0.25, 0.35, 0.32, 0.48, 0.75, 1.0, 0.85, 0.7, 0.45, 0.18, 0.05, 0.05, 0.03, 0.07, 0.14, 0.04, 0.02],
}
IRL_X = [-0.1, 0.1, 0.3, 0.45, 0.6, 0.75, 0.9, 1.1, 1.3, 1.55, 1.8, 2.1, 2.5, 3.0]
IRL_Y = {
    2006: [0.05, 0.25, 0.55, 0.8, 1.1, 1.25, 0.9, 0.5, 0.25, 0.12, 0.1, 0.1, 0.04, 0.02],
    2007: [0.05, 0.25, 0.55, 0.8, 0.95, 1.0, 0.95, 0.65, 0.35, 0.15, 0.08, 0.05, 0.03, 0.02],
    2008: [0.04, 0.22, 0.5, 0.72, 0.9, 1.0, 0.98, 0.7, 0.42, 0.18, 0.09, 0.05, 0.03, 0.02],
    2009: [0.03, 0.2, 0.45, 0.65, 0.82, 0.9, 0.88, 0.75, 0.5, 0.25, 0.1, 0.05, 0.03, 0.02],
    2011: [0.1, 0.45, 0.8, 1.0, 1.05, 0.9, 0.65, 0.35, 0.15, 0.05, 0.02, 0.02, 0.01, 0.0],
    2013: [0.12, 0.4, 0.65, 0.72, 0.7, 0.65, 0.6, 0.5, 0.35, 0.2, 0.12, 0.08, 0.05, 0.02],
    2014: [0.14, 0.43, 0.63, 0.68, 0.68, 0.64, 0.58, 0.48, 0.32, 0.17, 0.11, 0.1, 0.05, 0.02],
    2015: [0.15, 0.45, 0.62, 0.65, 0.65, 0.62, 0.55, 0.45, 0.3, 0.15, 0.1, 0.12, 0.05, 0.02],
}
ITA_X = [0.3, 0.4, 0.48, 0.55, 0.6, 0.66, 0.72, 0.78, 0.85, 0.95, 1.1, 1.3, 1.5, 1.65, 1.85, 2.1, 2.5]
ITA_Y = {
    2007: [0.1, 0.3, 0.6, 1.1, 1.7, 2.2, 2.4, 2.2, 1.5, 0.7, 0.2, 0.1, 0.08, 0.2, 0.1, 0.05, 0.1],
    2008: [0.08, 0.28, 0.55, 1.05, 1.65, 2.3, 2.6, 2.3, 1.45, 0.65, 0.2, 0.11, 0.09, 0.15, 0.15, 0.05, 0.06],
    2009: [0.05, 0.25, 0.5, 1.0, 1.6, 2.4, 2.9, 2.4, 1.4, 0.6, 0.2, 0.12, 0.1, 0.12, 0.2, 0.05, 0.03],
    2012: [0.1, 0.4, 1.2, 2.8, 3.4, 2.6, 1.5, 0.9, 0.7, 0.4, 0.15, 0.1, 0.1, 0.12, 0.15, 0.05, 0.03],
    2013: [0.15, 0.5, 1.2, 2.0, 2.4, 2.2, 1.7, 1.2, 0.8, 0.4, 0.2, 0.12, 0.1, 0.1, 0.1, 0.05, 0.03],
    2014: [0.2, 0.65, 1.4, 2.1, 2.3, 2.1, 1.65, 1.15, 0.7, 0.35, 0.17, 0.11, 0.11, 0.12, 0.1, 0.05, 0.03],
    2015: [0.25, 0.8, 1.6, 2.15, 2.2, 2.0, 1.6, 1.1, 0.6, 0.3, 0.15, 0.1, 0.12, 0.15, 0.1, 0.05, 0.03],
}
JPN_X = [-0.2, 0.0, 0.15, 0.3, 0.42, 0.52, 0.6, 0.7, 0.85, 1.0, 1.2, 1.45, 1.7, 1.95, 2.2, 2.4, 2.6, 2.85]
JPN_Y = {
    2007: [0.08, 0.15, 0.3, 0.7, 1.1, 1.35, 1.2, 0.9, 0.6, 0.45, 0.38, 0.25, 0.15, 0.1, 0.08, 0.08, 0.05, 0.05],
    2008: [0.07, 0.15, 0.3, 0.62, 0.95, 1.15, 1.1, 0.9, 0.62, 0.45, 0.36, 0.26, 0.17, 0.11, 0.07, 0.06, 0.04, 0.03],
    2009: [0.06, 0.15, 0.28, 0.55, 0.8, 0.95, 1.0, 0.9, 0.65, 0.45, 0.35, 0.28, 0.2, 0.12, 0.06, 0.04, 0.03, 0.02],
    2011: [0.08, 0.18, 0.35, 0.75, 1.1, 1.15, 1.05, 0.85, 0.6, 0.45, 0.32, 0.22, 0.15, 0.15, 0.12, 0.06, 0.03, 0.01],
    2013: [0.07, 0.15, 0.3, 0.65, 0.95, 1.08, 1.05, 0.88, 0.62, 0.45, 0.35, 0.25, 0.15, 0.1, 0.12, 0.15, 0.05, 0.02],
    2014: [0.06, 0.15, 0.3, 0.65, 0.95, 1.08, 1.06, 0.89, 0.62, 0.45, 0.35, 0.23, 0.13, 0.09, 0.12, 0.16, 0.07, 0.02],
    2015: [0.06, 0.15, 0.3, 0.65, 0.95, 1.08, 1.07, 0.9, 0.62, 0.45, 0.35, 0.22, 0.12, 0.08, 0.12, 0.17, 0.08, 0.02],
}
KOR_X = [0.0, 0.15, 0.3, 0.45, 0.55, 0.65, 0.8, 0.95, 1.1, 1.25, 1.4, 1.6, 1.8, 2.1, 2.5, 2.9]
KOR_Y = {
    2007: [0.22, 0.45, 0.7, 0.85, 0.82, 0.72, 0.62, 0.58, 0.5, 0.35, 0.2, 0.08, 0.03, 0.02, 0.02, 0.02],
    2008: [0.23, 0.46, 0.71, 0.86, 0.84, 0.74, 0.63, 0.59, 0.51, 0.37, 0.21, 0.08, 0.03, 0.02, 0.02, 0.02],
    2009: [0.25, 0.48, 0.72, 0.88, 0.86, 0.76, 0.65, 0.6, 0.52, 0.38, 0.22, 0.08, 0.03, 0.01, 0.01, 0.02],
    2011: [0.2, 0.45, 0.75, 0.95, 0.95, 0.85, 0.78, 0.75, 0.6, 0.35, 0.15, 0.04, 0.01, 0.0, 0.0, 0.01],
    2013: [0.15, 0.38, 0.7, 0.95, 1.0, 0.9, 0.8, 0.78, 0.62, 0.35, 0.12, 0.03, 0.0, 0.0, 0.0, 0.0],
    2014: [0.15, 0.38, 0.7, 0.96, 1.02, 0.93, 0.82, 0.8, 0.62, 0.33, 0.12, 0.03, 0.0, 0.0, 0.0, 0.0],
    2015: [0.15, 0.38, 0.7, 0.95, 1.05, 0.95, 0.82, 0.8, 0.62, 0.32, 0.12, 0.03, 0.0, 0.0, 0.0, 0.0],
}
LTU_X = [0.0, 0.25, 0.5, 0.7, 0.85, 1.0, 1.2, 1.45, 1.7, 2.0, 2.3, 2.6, 3.0, 3.5, 4.0]
LTU_Y = {
    2007: [0.05, 0.3, 0.6, 0.8, 0.9, 0.95, 0.75, 0.5, 0.35, 0.25, 0.15, 0.05, 0.02, 0.02, 0.02],
    2008: [0.05, 0.3, 0.62, 0.82, 0.88, 0.85, 0.68, 0.48, 0.32, 0.22, 0.12, 0.04, 0.02, 0.02, 0.02],
    2009: [0.05, 0.3, 0.65, 0.85, 0.85, 0.75, 0.6, 0.45, 0.3, 0.2, 0.1, 0.03, 0.02, 0.01, 0.01],
    2011: [0.06, 0.3, 0.65, 0.85, 0.88, 0.8, 0.6, 0.4, 0.28, 0.18, 0.08, 0.03, 0.02, 0.01, 0.01],
    2012: [0.06, 0.3, 0.7, 1.2, 1.0, 0.75, 0.45, 0.3, 0.25, 0.15, 0.06, 0.02, 0.01, 0.0, 0.0],
    2013: [0.05, 0.25, 0.5, 0.7, 0.8, 0.8, 0.7, 0.55, 0.4, 0.3, 0.25, 0.1, 0.02, 0.01, 0.01],
    2014: [0.07, 0.25, 0.48, 0.65, 0.72, 0.75, 0.66, 0.54, 0.42, 0.32, 0.22, 0.09, 0.02, 0.01, 0.01],
    2015: [0.08, 0.25, 0.45, 0.6, 0.68, 0.7, 0.62, 0.52, 0.4, 0.32, 0.2, 0.08, 0.02, 0.01, 0.01],
}
LUX_X = [-0.1, 0.05, 0.15, 0.25, 0.32, 0.38, 0.45, 0.52, 0.6, 0.7, 0.8, 0.95, 1.1, 1.25, 1.45, 1.6, 1.78]
LUX_Y = {
    2007: [0.05, 0.2, 0.5, 0.9, 1.3, 1.6, 1.9, 2.1, 2.0, 1.2, 0.6, 0.3, 0.25, 0.3, 0.15, 0.05, 0.02],
    2008: [0.05, 0.22, 0.35, 0.6, 1.0, 1.5, 2.0, 2.35, 2.4, 1.5, 0.6, 0.28, 0.22, 0.35, 0.15, 0.06, 0.02],
    2009: [0.05, 0.25, 0.3, 0.5, 0.9, 1.4, 2.0, 2.4, 2.5, 1.6, 0.6, 0.25, 0.2, 0.3, 0.15, 0.08, 0.02],
    2011: [0.25, 0.5, 1.0, 2.0, 3.1, 2.6, 1.2, 0.5, 0.4, 0.3, 0.25, 0.15, 0.2, 0.1, 0.05, 0.15, 0.05],
    2012: [0.1, 0.3, 0.6, 1.2, 2.0, 2.6, 2.8, 1.8, 0.8, 0.4, 0.3, 0.25, 0.2, 0.15, 0.1, 0.05, 0.02],
    2013: [0.1, 0.3, 0.7, 1.3, 1.9, 2.3, 2.4, 2.0, 1.4, 0.8, 0.5, 0.3, 0.2, 0.15, 0.1, 0.05, 0.02],
    2014: [0.12, 0.35, 0.75, 1.4, 2.0, 2.3, 2.2, 1.85, 1.4, 0.9, 0.55, 0.3, 0.2, 0.18, 0.12, 0.05, 0.02],
    2015: [0.15, 0.4, 0.8, 1.5, 2.0, 2.15, 2.0, 1.7, 1.4, 1.0, 0.6, 0.3, 0.2, 0.2, 0.15, 0.05, 0.02],
}
LVA_X = [0.25, 0.4, 0.55, 0.7, 0.82, 0.92, 1.0, 1.1, 1.25, 1.45, 1.7, 2.0, 2.25, 2.5, 2.8, 3.35]
LVA_Y = {
    2007: [0.2, 0.4, 0.5, 0.75, 1.0, 1.1, 1.05, 0.95, 0.7, 0.4, 0.15, 0.12, 0.1, 0.15, 0.05, 0.05],
    2008: [0.18, 0.35, 0.45, 0.65, 0.95, 1.2, 1.25, 1.0, 0.6, 0.35, 0.15, 0.13, 0.1, 0.12, 0.05, 0.04],
    2009: [0.15, 0.3, 0.45, 0.7, 1.1, 1.35, 1.3, 0.9, 0.5, 0.3, 0.15, 0.15, 0.08, 0.05, 0.03, 0.03],
    2011: [0.25, 0.45, 0.7, 1.0, 1.1, 1.0, 0.85, 0.6, 0.4, 0.25, 0.1, 0.05, 0.05, 0.03, 0.05, 0.05],
    2012: [0.2, 0.45, 0.8, 1.2, 1.15, 0.9, 0.7, 0.5, 0.35, 0.2, 0.08, 0.04, 0.03, 0.02, 0.02, 0.03],
    2013: [0.2, 0.3, 0.4, 0.6, 0.85, 1.0, 1.05, 1.1, 1.0, 0.6, 0.2, 0.08, 0.05, 0.05, 0.03, 0.03],
    2014: [0.18, 0.3, 0.45, 0.75, 1.05, 1.25, 1.15, 1.0, 0.75, 0.45, 0.15, 0.06, 0.04, 0.04, 0.03, 0.02],
    2015: [0.15, 0.3, 0.5, 0.9, 1.3, 1.5, 1.2, 0.8, 0.5, 0.3, 0.1, 0.05, 0.03, 0.03, 0.02, 0.02],
}
MEX_X = [0.2, 0.8, 1.3, 1.7, 2.0, 2.3, 2.6, 3.0, 3.5, 4.2, 5.0, 5.6, 6.3, 7.2, 8.2, 9.1]
MEX_Y = {
    2007: [0.05, 0.08, 0.25, 0.55, 0.67, 0.5, 0.3, 0.15, 0.1, 0.07, 0.05, 0.03, 0.02, 0.02, 0.02, 0.01],
    2008: [0.05, 0.07, 0.2, 0.5, 0.65, 0.55, 0.35, 0.18, 0.11, 0.08, 0.05, 0.04, 0.03, 0.02, 0.02, 0.01],
    2009: [0.05, 0.06, 0.15, 0.4, 0.58, 0.55, 0.4, 0.22, 0.12, 0.08, 0.05, 0.04, 0.03, 0.02, 0.02, 0.02],
    2011: [0.05, 0.06, 0.12, 0.3, 0.45, 0.5, 0.42, 0.28, 0.18, 0.1, 0.08, 0.07, 0.04, 0.02, 0.01, 0.01],
    2013: [0.05, 0.06, 0.1, 0.2, 0.3, 0.36, 0.35, 0.3, 0.22, 0.15, 0.1, 0.08, 0.04, 0.02, 0.01, 0.01],
    2014: [0.05, 0.06, 0.1, 0.19, 0.28, 0.35, 0.35, 0.3, 0.22, 0.15, 0.09, 0.08, 0.04, 0.02, 0.01, 0.01],
    2015: [0.05, 0.06, 0.1, 0.18, 0.27, 0.33, 0.35, 0.3, 0.22, 0.15, 0.08, 0.07, 0.03, 0.02, 0.01, 0.01],
}
NLD_X = [0.15, 0.28, 0.4, 0.5, 0.58, 0.68, 0.8, 0.92, 1.05, 1.2, 1.35, 1.55, 1.75, 2.0, 2.2, 2.42]
NLD_Y = {
    2006: [0.3, 0.85, 1.35, 1.4, 1.25, 1.1, 0.8, 0.45, 0.2, 0.2, 0.25, 0.1, 0.05, 0.05, 0.03, 0.02],
    2007: [0.3, 0.8, 1.25, 1.3, 1.2, 1.1, 0.8, 0.45, 0.2, 0.15, 0.15, 0.1, 0.06, 0.05, 0.05, 0.03],
    2008: [0.25, 0.75, 1.2, 1.28, 1.22, 1.12, 0.85, 0.48, 0.2, 0.15, 0.15, 0.15, 0.08, 0.07, 0.08, 0.04],
    2009: [0.2, 0.7, 1.15, 1.25, 1.25, 1.15, 0.9, 0.5, 0.2, 0.15, 0.15, 0.2, 0.1, 0.08, 0.1, 0.05],
    2011: [0.2, 0.6, 1.05, 1.2, 1.2, 1.15, 1.0, 0.6, 0.25, 0.12, 0.15, 0.15, 0.08, 0.06, 0.05, 0.03],
    2013: [0.25, 0.6, 1.0, 1.3, 1.55, 1.35, 0.85, 0.45, 0.2, 0.2, 0.25, 0.1, 0.08, 0.05, 0.03, 0.02],
    2014: [0.25, 0.6, 1.0, 1.4, 1.65, 1.38, 0.82, 0.42, 0.17, 0.22, 0.28, 0.1, 0.07, 0.05, 0.04, 0.02],
    2015: [0.25, 0.6, 1.0, 1.5, 1.78, 1.4, 0.8, 0.4, 0.15, 0.25, 0.3, 0.1, 0.06, 0.05, 0.05, 0.02],
}
NOR_X = [0.0, 0.12, 0.25, 0.35, 0.43, 0.5, 0.58, 0.68, 0.8, 0.95, 1.1, 1.3, 1.5, 1.7, 1.9, 2.1, 2.28]
NOR_Y = {
    2007: [0.1, 0.3, 0.6, 1.0, 1.3, 1.35, 1.1, 0.7, 0.4, 0.3, 0.2, 0.1, 0.05, 0.05, 0.05, 0.08, 0.1],
    2008: [0.08, 0.25, 0.55, 0.95, 1.3, 1.42, 1.2, 0.75, 0.42, 0.32, 0.25, 0.18, 0.1, 0.08, 0.05, 0.06, 0.08],
    2009: [0.05, 0.2, 0.5, 0.9, 1.35, 1.5, 1.3, 0.8, 0.45, 0.35, 0.3, 0.25, 0.15, 0.1, 0.05, 0.05, 0.05],
    2011: [0.08, 0.3, 0.7, 1.4, 2.0, 1.75, 1.1, 0.6, 0.35, 0.3, 0.2, 0.15, 0.1, 0.08, 0.05, 0.04, 0.04],
    2013: [0.05, 0.2, 0.5, 1.1, 1.7, 1.85, 1.4, 0.7, 0.35, 0.25, 0.15, 0.1, 0.12, 0.15, 0.1, 0.05, 0.05],
    2014: [0.05, 0.2, 0.52, 1.15, 1.75, 1.9, 1.42, 0.72, 0.35, 0.22, 0.15, 0.1, 0.14, 0.17, 0.1, 0.05, 0.05],
    2015: [0.05, 0.2, 0.55, 1.2, 1.8, 1.95, 1.45, 0.75, 0.35, 0.2, 0.15, 0.1, 0.15, 0.18, 0.1, 0.05, 0.05],
}
POL_X = [0.05, 0.25, 0.45, 0.65, 0.8, 0.9, 1.0, 1.1, 1.2, 1.35, 1.55, 1.8, 2.1, 2.5, 2.8, 3.05, 3.4]
POL_Y = {
    2007: [0.15, 0.28, 0.35, 0.8, 1.2, 1.2, 0.8, 0.35, 0.25, 0.25, 0.25, 0.15, 0.08, 0.05, 0.05, 0.05, 0.0],
    2008: [0.14, 0.25, 0.32, 0.7, 1.1, 1.15, 0.85, 0.45, 0.3, 0.27, 0.25, 0.15, 0.08, 0.05, 0.04, 0.05, 0.0],
    2009: [0.12, 0.22, 0.3, 0.55, 0.85, 1.0, 0.95, 0.65, 0.4, 0.3, 0.25, 0.15, 0.08, 0.04, 0.03, 0.05, 0.0],
    2011: [0.12, 0.25, 0.25, 0.4, 0.6, 0.8, 0.95, 1.0, 0.9, 0.55, 0.3, 0.18, 0.1, 0.05, 0.05, 0.06, 0.0],
    2013: [0.1, 0.18, 0.2, 0.38, 0.65, 0.95, 1.15, 1.1, 0.85, 0.45, 0.3, 0.18, 0.1, 0.05, 0.05, 0.1, 0.0],
    2014: [0.1, 0.19, 0.21, 0.39, 0.65, 0.92, 1.12, 1.12, 0.9, 0.48, 0.3, 0.16, 0.09, 0.05, 0.05, 0.1, 0.0],
    2015: [0.1, 0.2, 0.22, 0.4, 0.65, 0.9, 1.1, 1.15, 0.95, 0.5, 0.3, 0.15, 0.08, 0.04, 0.05, 0.1, 0.0],
}
PRT_X = [-0.25, -0.1, 0.05, 0.2, 0.35, 0.47, 0.56, 0.65, 0.75, 0.88, 1.0, 1.12, 1.25, 1.4, 1.6, 1.85, 2.1, 2.35, 2.55]
PRT_Y = {
    2007: [0.08, 0.1, 0.1, 0.3, 0.7, 1.1, 1.35, 1.3, 1.05, 0.7, 0.45, 0.3, 0.25, 0.15, 0.1, 0.08, 0.1, 0.05, 0.05],
    2008: [0.06, 0.08, 0.1, 0.32, 0.75, 1.15, 1.36, 1.28, 1.0, 0.65, 0.42, 0.25, 0.28, 0.2, 0.1, 0.07, 0.08, 0.06, 0.05],
    2009: [0.05, 0.05, 0.1, 0.35, 0.8, 1.2, 1.38, 1.25, 0.95, 0.6, 0.4, 0.2, 0.3, 0.25, 0.1, 0.06, 0.06, 0.08, 0.05],
    2011: [0.05, 0.05, 0.08, 0.25, 0.6, 1.0, 1.25, 1.28, 1.1, 0.75, 0.5, 0.3, 0.25, 0.2, 0.12, 0.08, 0.1, 0.12, 0.08],
    2013: [0.05, 0.05, 0.08, 0.2, 0.5, 0.85, 1.08, 1.15, 1.05, 0.8, 0.55, 0.35, 0.25, 0.18, 0.12, 0.1, 0.08, 0.06, 0.05],
    2014: [0.05, 0.05, 0.08, 0.2, 0.48, 0.82, 1.04, 1.12, 1.05, 0.82, 0.58, 0.38, 0.27, 0.18, 0.12, 0.1, 0.08, 0.05, 0.05],
    2015: [0.05, 0.06, 0.08, 0.2, 0.45, 0.8, 1.0, 1.08, 1.05, 0.85, 0.6, 0.4, 0.28, 0.18, 0.12, 0.1, 0.08, 0.05, 0.04],
}
ROU_X = [0.1, 0.25, 0.4, 0.5, 0.65, 0.8, 0.95, 1.1, 1.25, 1.4, 1.6, 1.85, 2.1, 2.5, 2.9, 3.4, 3.85]
ROU_Y = {
    2007: [0.25, 0.8, 1.28, 1.3, 1.05, 0.7, 0.4, 0.25, 0.3, 0.45, 0.4, 0.2, 0.08, 0.03, 0.02, 0.05, 0.05],
    2008: [0.2, 0.4, 0.6, 0.75, 0.95, 1.1, 1.05, 0.8, 0.55, 0.35, 0.2, 0.1, 0.05, 0.02, 0.01, 0.02, 0.02],
    2009: [0.15, 0.4, 0.65, 0.8, 0.92, 0.95, 0.9, 0.75, 0.55, 0.4, 0.25, 0.12, 0.05, 0.02, 0.01, 0.02, 0.02],
    2010: [0.13, 0.35, 0.58, 0.72, 0.88, 0.95, 0.92, 0.8, 0.6, 0.45, 0.3, 0.15, 0.06, 0.02, 0.01, 0.02, 0.02],
    2011: [0.12, 0.3, 0.5, 0.65, 0.8, 0.85, 0.8, 0.75, 0.65, 0.55, 0.45, 0.25, 0.1, 0.04, 0.02, 0.02, 0.02],
    2013: [0.1, 0.25, 0.4, 0.5, 0.6, 0.7, 0.8, 0.9, 0.95, 0.8, 0.5, 0.25, 0.15, 0.08, 0.15, 0.05, 0.03],
    2014: [0.1, 0.22, 0.35, 0.45, 0.55, 0.68, 0.8, 0.95, 1.0, 0.95, 0.7, 0.35, 0.12, 0.04, 0.03, 0.04, 0.03],
    2015: [0.1, 0.2, 0.3, 0.38, 0.5, 0.62, 0.75, 0.9, 1.02, 1.05, 0.85, 0.4, 0.12, 0.03, 0.02, 0.05, 0.03],
}
RUS_X = [0.2, 0.3, 0.4, 0.5, 0.55, 0.58, 0.61, 0.64, 0.67, 0.7, 0.73, 0.76, 0.79, 0.82,
         0.86, 0.9, 0.95, 0.98, 1.01, 1.04, 1.08, 1.15, 1.3, 1.5, 1.7, 1.9, 2.1, 2.3]
RUS_Y = {
    2006: [0.2, 0.3, 0.4, 0.5, 0.6, 1.5, 2.5, 1.2, 0.7, 0.6, 0.5, 0.4, 0.3, 0.3,
           0.3, 0.3, 0.5, 1.5, 3.0, 3.8, 2.0, 0.5, 0.2, 0.1, 0.1, 0.05, 0.05, 0.05],
    2007: [0.3, 0.2, 0.3, 0.3, 0.4, 0.5, 0.5, 0.6, 0.7, 0.9, 1.0, 1.0, 0.9, 0.8,
           0.7, 1.5, 3.5, 4.3, 3.0, 1.0, 0.5, 0.3, 0.2, 0.2, 0.2, 0.1, 0.1, 0.1],
    2008: [0.2, 0.3, 0.4, 0.3, 0.3, 0.4, 0.5, 0.6, 0.8, 1.5, 4.0, 10.3, 4.0, 1.0,
           0.6, 0.5, 0.4, 0.3, 0.3, 0.2, 0.2, 0.2, 0.3, 0.2, 0.3, 0.1, 0.1, 0.1],
    2009: [0.3, 0.4, 0.3, 0.4, 0.5, 0.5, 0.6, 0.7, 1.0, 1.5, 2.5, 5.0, 8.0, 3.5,
           1.0, 0.6, 0.5, 0.4, 0.3, 0.3, 0.3, 0.2, 0.5, 0.2, 0.3, 0.15, 0.1, 0.1],
    2011: [0.4, 0.3, 0.6, 0.3, 0.5, 1.0, 3.5, 8.0, 3.0, 1.0, 0.8, 0.5, 0.4, 0.3,
           0.3, 0.2, 0.2, 0.2, 0.15, 0.1, 0.1, 0.1, 0.1, 0.1, 0.05, 0.1, 0.05, 0.1],
    2012: [0.2, 0.3, 0.3, 0.5, 0.6, 0.8, 1.5, 3.0, 6.0, 3.0, 1.0, 0.6, 0.4, 0.3,
           0.3, 0.2, 0.2, 0.15, 0.1, 0.1, 0.1, 0.1, 0.1, 0.05, 0.05, 0.05, 0.05, 0.05],
    2015: [0.3, 0.5, 0.2, 0.8, 3.0, 7.2, 3.5, 1.0, 0.6, 0.5, 0.4, 0.3, 0.3, 0.3,
           0.2, 0.2, 0.2, 0.2, 0.2, 0.15, 0.1, 0.1, 0.1, 0.1, 0.05, 0.05, 0.05, 0.05],
}
SVK_X = [0.15, 0.35, 0.55, 0.7, 0.8, 0.9, 1.0, 1.1, 1.25, 1.45, 1.65, 1.85, 2.1, 2.4, 2.7, 3.1, 3.6]
SVK_Y = {
    2006: [0.05, 0.25, 0.7, 1.2, 1.32, 1.0, 0.8, 0.65, 0.5, 0.35, 0.1, 0.05, 0.05, 0.03, 0.01, 0.0, 0.0],
    2007: [0.05, 0.2, 0.5, 0.9, 1.3, 1.62, 1.2, 0.9, 0.65, 0.45, 0.3, 0.2, 0.08, 0.05, 0.02, 0.0, 0.0],
    2008: [0.05, 0.18, 0.45, 0.8, 1.1, 1.38, 1.2, 0.95, 0.7, 0.5, 0.32, 0.22, 0.1, 0.06, 0.03, 0.0, 0.0],
    2009: [0.04, 0.15, 0.4, 0.7, 0.9, 1.05, 1.15, 1.15, 0.9, 0.6, 0.35, 0.25, 0.1, 0.1, 0.05, 0.0, 0.0],
    2011: [0.05, 0.12, 0.3, 0.55, 0.75, 0.9, 1.0, 1.05, 1.0, 0.7, 0.4, 0.25, 0.12, 0.12, 0.05, 0.0, 0.0],
    2013: [0.06, 0.25, 0.55, 0.8, 0.95, 1.0, 0.95, 0.8, 0.6, 0.45, 0.35, 0.3, 0.15, 0.05, 0.02, 0.0, 0.0],
    2014: [0.05, 0.22, 0.52, 0.78, 0.92, 0.98, 0.94, 0.8, 0.6, 0.45, 0.36, 0.32, 0.16, 0.05, 0.02, 0.0, 0.0],
    2015: [0.05, 0.2, 0.5, 0.75, 0.9, 0.98, 0.95, 0.8, 0.6, 0.45, 0.35, 0.3, 0.15, 0.05, 0.02, 0.0, 0.0],
}
SVN_X = [-0.2, -0.05, 0.08, 0.18, 0.26, 0.33, 0.4, 0.47, 0.54, 0.62, 0.72, 0.85, 0.97, 1.1, 1.28, 1.45, 1.6]
SVN_Y = {
    2007: [0.1, 0.1, 0.3, 0.6, 1.3, 2.0, 2.2, 2.0, 1.3, 0.7, 0.3, 0.2, 0.15, 0.1, 0.2, 0.1, 0.05],
    2008: [0.05, 0.08, 0.2, 0.45, 0.85, 1.3, 1.65, 1.7, 1.6, 1.1, 0.45, 0.25, 0.2, 0.15, 0.25, 0.1, 0.08],
    2009: [0.05, 0.08, 0.2, 0.45, 0.9, 1.5, 2.2, 2.5, 2.0, 1.2, 0.4, 0.25, 0.2, 0.15, 0.15, 0.1, 0.1],
    2011: [0.08, 0.1, 0.25, 0.5, 0.9, 1.5, 2.0, 2.15, 1.9, 1.3, 0.5, 0.3, 0.25, 0.15, 0.1, 0.08, 0.1],
    2012: [0.1, 0.12, 0.35, 1.1, 2.2, 2.7, 2.2, 1.3, 0.6, 0.3, 0.25, 0.3, 0.2, 0.1, 0.1, 0.05, 0.12],
    2013: [0.1, 0.12, 0.3, 0.9, 1.9, 2.7, 2.6, 1.8, 0.9, 0.4, 0.25, 0.45, 0.35, 0.15, 0.1, 0.05, 0.03],
    2014: [0.1, 0.11, 0.28, 0.8, 1.7, 2.6, 2.75, 2.0, 1.1, 0.5, 0.28, 0.4, 0.38, 0.15, 0.09, 0.05, 0.03],
    2015: [0.1, 0.1, 0.25, 0.7, 1.5, 2.3, 2.5, 2.2, 1.5, 0.8, 0.3, 0.35, 0.4, 0.15, 0.08, 0.05, 0.03],
}
SWE_X = [0.1, 0.25, 0.4, 0.55, 0.65, 0.75, 0.85, 0.95, 1.08, 1.2, 1.4, 1.6, 1.85, 2.1, 2.4, 2.7, 3.1]
SWE_Y = {
    2007: [0.1, 0.3, 0.65, 1.1, 1.35, 1.42, 1.2, 0.85, 0.55, 0.4, 0.35, 0.25, 0.1, 0.1, 0.12, 0.05, 0.02],
    2008: [0.08, 0.25, 0.58, 1.0, 1.25, 1.4, 1.3, 1.0, 0.68, 0.45, 0.35, 0.25, 0.12, 0.09, 0.1, 0.05, 0.02],
    2009: [0.05, 0.2, 0.5, 0.9, 1.15, 1.35, 1.38, 1.2, 0.8, 0.5, 0.35, 0.25, 0.15, 0.08, 0.05, 0.05, 0.02],
    2011: [0.06, 0.2, 0.45, 0.8, 1.0, 1.15, 1.15, 1.05, 0.8, 0.55, 0.38, 0.25, 0.18, 0.1, 0.08, 0.08, 0.03],
    2012: [0.12, 0.4, 0.9, 1.3, 1.38, 1.2, 0.95, 0.7, 0.5, 0.4, 0.35, 0.2, 0.1, 0.08, 0.08, 0.1, 0.03],
    2013: [0.1, 0.35, 0.8, 1.2, 1.3, 1.25, 1.05, 0.8, 0.55, 0.4, 0.3, 0.2, 0.12, 0.1, 0.08, 0.1, 0.03],
    2014: [0.1, 0.35, 0.8, 1.2, 1.32, 1.28, 1.08, 0.8, 0.52, 0.4, 0.33, 0.22, 0.13, 0.1, 0.08, 0.09, 0.03],
    2015: [0.1, 0.35, 0.8, 1.2, 1.35, 1.3, 1.1, 0.8, 0.5, 0.4, 0.35, 0.25, 0.15, 0.1, 0.08, 0.08, 0.03],
}
TUR_X = [0.2, 0.4, 0.7, 1.0, 1.3, 1.55, 1.75, 2.0, 2.3, 2.7, 3.1, 3.5, 4.0, 4.5, 5.0, 6.0, 7.8]
TUR_Y = {
    2006: [0.17, 0.12, 0.1, 0.15, 0.45, 0.86, 0.6, 0.3, 0.25, 0.15, 0.05, 0.01, 0.0, 0.0, 0.0, 0.0, 0.0],
    2007: [0.12, 0.15, 0.1, 0.12, 0.3, 0.6, 0.73, 0.5, 0.3, 0.25, 0.2, 0.12, 0.05, 0.01, 0.0, 0.0, 0.0],
    2008: [0.11, 0.13, 0.1, 0.12, 0.28, 0.52, 0.6, 0.5, 0.3, 0.24, 0.2, 0.15, 0.08, 0.02, 0.0, 0.0, 0.0],
    2009: [0.1, 0.12, 0.1, 0.12, 0.25, 0.45, 0.55, 0.48, 0.3, 0.22, 0.2, 0.17, 0.1, 0.04, 0.0, 0.0, 0.0],
    2011: [0.1, 0.11, 0.1, 0.12, 0.25, 0.45, 0.56, 0.5, 0.32, 0.22, 0.2, 0.16, 0.1, 0.04, 0.01, 0.0, 0.0],
    2013: [0.1, 0.12, 0.1, 0.13, 0.28, 0.47, 0.55, 0.48, 0.3, 0.22, 0.2, 0.15, 0.08, 0.03, 0.0, 0.0, 0.0],
    2014: [0.1, 0.12, 0.1, 0.13, 0.27, 0.47, 0.56, 0.48, 0.31, 0.22, 0.2, 0.16, 0.09, 0.03, 0.0, 0.0, 0.0],
    2015: [0.1, 0.11, 0.1, 0.13, 0.28, 0.48, 0.55, 0.47, 0.3, 0.22, 0.2, 0.16, 0.09, 0.03, 0.0, 0.0, 0.0],
}
TWN_X = [-1.0, -0.8, -0.6, -0.45, -0.32, -0.22, -0.12, 0.0, 0.12, 0.25, 0.4, 0.6, 0.85, 1.2, 1.5, 1.8]
TWN_Y = {
    2007: [0.3, 0.55, 0.75, 0.75, 0.8, 0.85, 0.88, 0.7, 0.5, 0.35, 0.25, 0.12, 0.04, 0.02, 0.03, 0.02],
    2008: [0.3, 0.52, 0.72, 0.76, 0.82, 0.9, 0.92, 0.7, 0.48, 0.32, 0.22, 0.11, 0.04, 0.02, 0.03, 0.02],
    2009: [0.28, 0.5, 0.7, 0.8, 0.9, 0.97, 0.95, 0.7, 0.45, 0.3, 0.2, 0.1, 0.04, 0.02, 0.03, 0.02],
    2011: [0.25, 0.45, 0.65, 0.8, 1.15, 1.55, 1.2, 0.5, 0.15, 0.08, 0.05, 0.03, 0.02, 0.02, 0.03, 0.05],
    2012: [0.25, 0.45, 0.64, 0.78, 1.05, 1.35, 1.15, 0.6, 0.22, 0.1, 0.06, 0.03, 0.02, 0.02, 0.03, 0.04],
    2013: [0.25, 0.45, 0.62, 0.75, 0.95, 1.15, 1.1, 0.75, 0.4, 0.25, 0.12, 0.05, 0.02, 0.02, 0.02, 0.02],
    2014: [0.25, 0.45, 0.62, 0.75, 0.95, 1.15, 1.15, 0.85, 0.55, 0.33, 0.16, 0.07, 0.03, 0.02, 0.02, 0.03],
    2015: [0.25, 0.45, 0.62, 0.75, 0.95, 1.15, 1.2, 0.95, 0.65, 0.4, 0.2, 0.08, 0.04, 0.02, 0.02, 0.03],
}
USA_X = [0.15, 0.25, 0.35, 0.45, 0.53, 0.6, 0.68, 0.78, 0.9, 1.05, 1.2, 1.35, 1.5, 1.65, 1.85, 2.0, 2.15, 2.35, 2.6]
USA_Y = {
    2007: [0.15, 0.55, 1.2, 1.7, 1.85, 1.6, 1.2, 0.7, 0.35, 0.3, 0.3, 0.2, 0.15, 0.15, 0.1, 0.08, 0.05, 0.05, 0.02],
    2008: [0.12, 0.48, 1.05, 1.55, 1.75, 1.65, 1.35, 0.85, 0.42, 0.3, 0.3, 0.22, 0.15, 0.15, 0.09, 0.06, 0.05, 0.04, 0.02],
    2009: [0.1, 0.4, 0.9, 1.4, 1.65, 1.7, 1.5, 1.0, 0.5, 0.3, 0.3, 0.25, 0.15, 0.15, 0.08, 0.05, 0.05, 0.03, 0.02],
    2011: [0.08, 0.35, 0.8, 1.25, 1.5, 1.55, 1.4, 1.0, 0.55, 0.3, 0.25, 0.25, 0.2, 0.2, 0.15, 0.1, 0.08, 0.06, 0.04],
    2013: [0.1, 0.35, 0.75, 1.1, 1.3, 1.38, 1.3, 1.0, 0.6, 0.35, 0.25, 0.25, 0.25, 0.25, 0.15, 0.12, 0.15, 0.1, 0.05],
    2014: [0.1, 0.32, 0.72, 1.08, 1.28, 1.33, 1.28, 1.0, 0.6, 0.35, 0.25, 0.23, 0.25, 0.25, 0.15, 0.14, 0.18, 0.11, 0.06],
    2015: [0.1, 0.3, 0.7, 1.05, 1.25, 1.3, 1.25, 1.0, 0.6, 0.35, 0.25, 0.22, 0.25, 0.25, 0.15, 0.15, 0.2, 0.12, 0.06],
}

CURVES = {c: (globals()[c + "_X"], globals()[c + "_Y"]) for c in COUNTRIES}

# ---- layout / style ----
W, H = 134, 92
FONT = "Liberation Sans"
GRID = "#EBEBEB"


def decimals(vals):
    d = 0
    for v in vals:
        s = f"{v:g}"
        if "." in s:
            d = max(d, len(s.split(".")[1]))
    return d


def make_axis(majors, dom, pad):
    d = decimals(majors)
    fmt = f".{d}f" if d > 0 else "d"
    step = majors[1] - majors[0]
    minors = [m - step / 2 for m in majors] + [majors[-1] + step / 2]
    lo, hi = dom
    majors_r = [round(v, 6) for v in majors if lo <= v <= hi]
    minors_r = [round(v, 6) for v in minors if lo <= v <= hi]
    vals = sorted(majors_r + minors_r)
    js = "[" + ",".join(repr(v) for v in majors_r) + "]"
    test = f"indexof({js}, datum.value) >= 0"
    return alt.Axis(
        values=vals,
        format=fmt,
        labelExpr=f"{test} ? datum.label : ''",
        gridWidth={"condition": {"test": test, "value": 2}, "value": 1},
        labelPadding=pad,
        labelFont=FONT,
        labelFontSize=14,
        labelColor="#4D4D4D",
        title=None,
    )


color_scale = alt.Scale(domain=[str(y) for y in YEARS], range=PALETTE)

panels = []
for c in COUNTRIES:
    xs, series = CURVES[c]
    rows = []
    for yr in sorted(series):
        for xv, yv in zip(xs, series[yr]):
            rows.append({"x": xv, "y": yv, "year": str(yr)})
    df = pd.DataFrame(rows)
    ymax = df["y"].max()
    ydom = [-0.05 * ymax, 1.05 * ymax]
    xdom = X_DOMAIN[c]
    lines = alt.Chart(df).mark_line(strokeWidth=1.0, interpolate="monotone", clip=True).encode(
        x=alt.X("x:Q", scale=alt.Scale(domain=xdom, nice=False, zero=False),
                axis=make_axis(X_TICKS[c], xdom, 11)),
        y=alt.Y("y:Q", scale=alt.Scale(domain=ydom, nice=False, zero=False),
                axis=make_axis(Y_TICKS[c], ydom, 12)),
        color=alt.Color("year:N", scale=color_scale, legend=None),
    )
    label = alt.Chart(pd.DataFrame({"name": [c]})).mark_text(
        font=FONT, fontSize=20, color="black", align="center", baseline="alphabetic"
    ).encode(text="name:N", x=alt.value(92), y=alt.value(29))
    panels.append(alt.layer(lines, label).properties(width=W, height=H))

chart = alt.concat(
    *panels, columns=6, spacing={"row": 34.3, "column": 62.6}, bounds="flush"
).properties(
    padding={"left": 12, "top": 2, "right": 4, "bottom": 4}
).configure_view(strokeWidth=0).configure_axis(
    ticks=False, domain=False, gridColor=GRID, labelOverlap=False, labelFlush=False,
).configure(background="white")

chart.save("out.html", embed_options={"renderer": "svg", "actions": False})
